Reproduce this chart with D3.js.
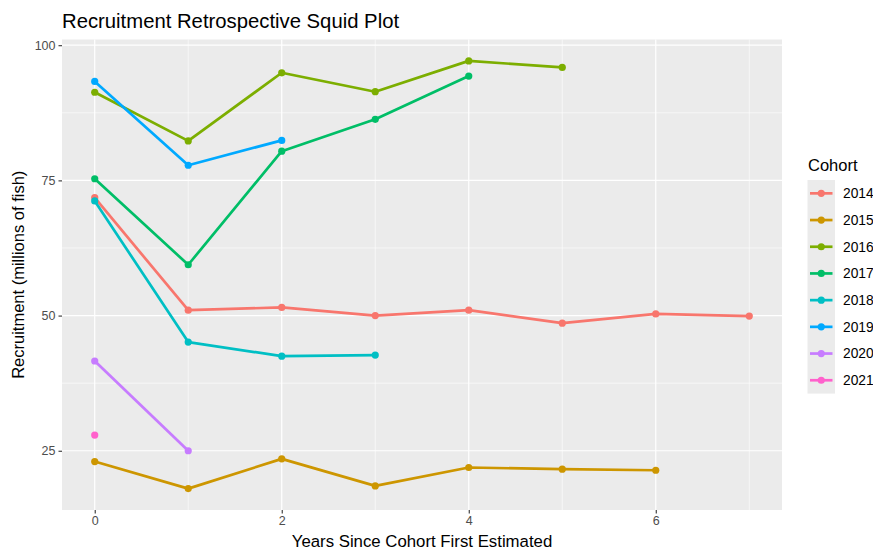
<!DOCTYPE html>
<html>
<head>
<meta charset="utf-8">
<script src="https://cdn.jsdelivr.net/npm/d3@7"></script>
<style>
  body { margin: 0; background: #fff; }
  svg { font-family: "Liberation Sans", Arial, sans-serif; }
</style>
</head>
<body>
<svg id="chart" width="873" height="550"></svg>
<script>
// Cohort estimates of recruitment (millions of fish) by years since first estimated
const cohorts = ["2014", "2015", "2016", "2017", "2018", "2019", "2020", "2021"];
const colors = ["#F8766D", "#CD9600", "#7CAE00", "#00BE67", "#00BFC4", "#00A9FF", "#C77CFF", "#FF61CC"];
const c2014 = [71.8, 51.0, 51.5, 50.0, 51.0, 48.6, 50.3, 49.9];
const c2015 = [23.0, 18.0, 23.5, 18.5, 21.9, 21.6, 21.4];
const c2016 = [91.3, 82.3, 94.9, 91.4, 97.1, 95.9];
const c2017 = [75.3, 59.4, 80.4, 86.3, 94.3];
const c2018 = [71.2, 45.1, 42.5, 42.7];
const c2019 = [93.3, 77.8, 82.4];
const c2020 = [41.6, 25.0];
const c2021 = [27.9];
const seriesValues = [c2014, c2015, c2016, c2017, c2018, c2019, c2020, c2021];
const xTicks = [0, 2, 4, 6];
const yTicks = [25, 50, 75, 100];

const svg = d3.select("#chart");
const panel = { left: 62, top: 39.5, right: 782, bottom: 510 };

const x = d3.scaleLinear().domain([-0.35, 7.35]).range([panel.left, panel.right]);
const allVals = seriesValues.flat();
const yMin = d3.min(allVals), yMax = d3.max(allVals);
const pad = (yMax - yMin) * 0.05;
const y = d3.scaleLinear().domain([yMin - pad, yMax + pad]).range([panel.bottom, panel.top]);

// panel background
svg.append("rect")
  .attr("x", panel.left).attr("y", panel.top)
  .attr("width", panel.right - panel.left).attr("height", panel.bottom - panel.top)
  .attr("fill", "#EBEBEB");

// minor grid lines
const xMinor = [1, 3, 5, 7];
const yMinor = [37.5, 62.5, 87.5];
const grid = svg.append("g");
grid.selectAll(".xm").data(xMinor).join("line")
  .attr("x1", d => x(d)).attr("x2", d => x(d))
  .attr("y1", panel.top).attr("y2", panel.bottom)
  .attr("stroke", "#fff").attr("stroke-width", 0.6);
grid.selectAll(".ym").data(yMinor).join("line")
  .attr("y1", d => y(d)).attr("y2", d => y(d))
  .attr("x1", panel.left).attr("x2", panel.right)
  .attr("stroke", "#fff").attr("stroke-width", 0.6);
// major grid lines
grid.selectAll(".xM").data(xTicks).join("line")
  .attr("x1", d => x(d)).attr("x2", d => x(d))
  .attr("y1", panel.top).attr("y2", panel.bottom)
  .attr("stroke", "#fff").attr("stroke-width", 1.2);
grid.selectAll(".yM").data(yTicks).join("line")
  .attr("y1", d => y(d)).attr("y2", d => y(d))
  .attr("x1", panel.left).attr("x2", panel.right)
  .attr("stroke", "#fff").attr("stroke-width", 1.2);

// axes
const xAxis = svg.append("g")
  .attr("transform", `translate(0,${panel.bottom})`)
  .call(d3.axisBottom(x).tickValues(xTicks).tickSize(3.5).tickPadding(3));
const yAxis = svg.append("g")
  .attr("transform", `translate(${panel.left},0)`)
  .call(d3.axisLeft(y).tickValues(yTicks).tickSize(3.5).tickPadding(3));
[xAxis, yAxis].forEach(a => {
  a.select(".domain").remove();
  a.selectAll(".tick line").attr("stroke", "#333").attr("stroke-width", 1.1);
  a.selectAll(".tick text").attr("fill", "#4D4D4D").style("font-size", "12.5px")
    .style("font-family", "'Liberation Sans', Arial, sans-serif");
});

// series
const line = d3.line().x((d, i) => x(i)).y(d => y(d));
const data = cohorts.map((c, k) => ({ cohort: c, color: colors[k], values: seriesValues[k] }));
const gSeries = svg.append("g");
data.forEach(s => {
  if (s.values.length > 1) {
    gSeries.append("path")
      .attr("d", line(s.values))
      .attr("fill", "none")
      .attr("stroke", s.color)
      .attr("stroke-width", 2.7)
      .attr("stroke-linejoin", "round");
  }
  gSeries.selectAll(null).data(s.values).join("circle")
    .attr("cx", (d, i) => x(i)).attr("cy", d => y(d))
    .attr("r", 3.6).attr("fill", s.color);
});

// titles
svg.append("text").attr("x", 62).attr("y", 27.5)
  .attr("fill", "#000").style("font-size", "20.3px")
  .text("Recruitment Retrospective Squid Plot");
svg.append("text")
  .attr("x", (panel.left + panel.right) / 2).attr("y", 547)
  .attr("text-anchor", "middle").attr("fill", "#000").style("font-size", "16.8px")
  .text("Years Since Cohort First Estimated");
svg.append("text")
  .attr("transform", `translate(24,${(panel.top + panel.bottom) / 2}) rotate(-90)`)
  .attr("text-anchor", "middle").attr("fill", "#000").style("font-size", "16.5px")
  .text("Recruitment (millions of fish)");

// legend
const legend = svg.append("g");
legend.append("text").attr("x", 808).attr("y", 171)
  .attr("fill", "#000").style("font-size", "16.5px").text("Cohort");
const keyTop = 180, keyH = 26.7;
legend.append("rect").attr("x", 807.5).attr("y", keyTop)
  .attr("width", 27.5).attr("height", keyH * cohorts.length)
  .attr("fill", "#EBEBEB");
data.forEach((s, i) => {
  const cy = keyTop + keyH * (i + 0.5);
  legend.append("line").attr("x1", 810).attr("x2", 832.5)
    .attr("y1", cy).attr("y2", cy)
    .attr("stroke", s.color).attr("stroke-width", 2.7);
  legend.append("circle").attr("cx", 821.25).attr("cy", cy).attr("r", 3.6).attr("fill", s.color);
  legend.append("text").attr("x", 843).attr("y", cy + 4.8)
    .attr("fill", "#000").style("font-size", "13.8px").text(s.cohort);
});
</script>
</body>
</html>
